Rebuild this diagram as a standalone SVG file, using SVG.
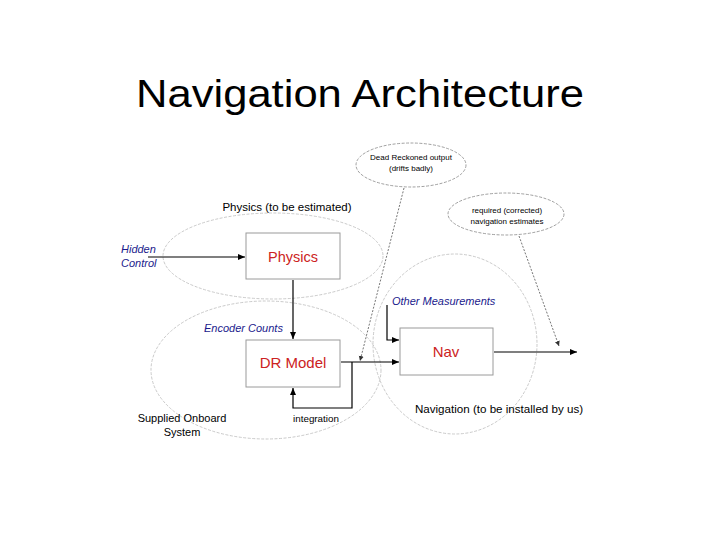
<svg xmlns="http://www.w3.org/2000/svg" width="720" height="540" viewBox="0 0 720 540">
<defs>
<style>
.t{font-family:"Liberation Sans",Arial,sans-serif;fill:#000}
.blue{font-family:"Liberation Sans",Arial,sans-serif;font-style:italic;fill:#1a1a8c;font-size:11px}
.red{font-family:"Liberation Sans",Arial,sans-serif;fill:#cc2222;text-anchor:middle}
.ell{fill:none;stroke:#bdbdbd;stroke-width:0.8;stroke-dasharray:3 1.5}
.ell2{fill:none;stroke:#888;stroke-width:0.8;stroke-dasharray:3 1.5}
.box{fill:#fff;stroke:#9a9a9a;stroke-width:1}
.ln{fill:none;stroke:#000;stroke-width:1.2}
.dot{fill:none;stroke:#666;stroke-width:0.9;stroke-dasharray:2 1.5}
</style>
<marker id="ah" markerWidth="8" markerHeight="8" refX="7" refY="4" orient="auto" markerUnits="userSpaceOnUse">
<path d="M0,1 L7,4 L0,7 Z" fill="#000"/>
</marker>
<marker id="ahs" markerWidth="6" markerHeight="6" refX="5" refY="3" orient="auto" markerUnits="userSpaceOnUse">
<path d="M0,0.5 L5,3 L0,5.5 Z" fill="#333"/>
</marker>
</defs>
<rect width="720" height="540" fill="#fff"/>
<text class="t" x="360" y="107" font-size="38" text-anchor="middle" textLength="448" lengthAdjust="spacingAndGlyphs">Navigation Architecture</text>

<g id="regions">
<ellipse id="physics-region" class="ell" cx="273" cy="256" rx="110" ry="43"/>
<ellipse id="onboard-region" class="ell" cx="266" cy="370" rx="115" ry="69"/>
<ellipse id="nav-region" class="ell" cx="455" cy="344" rx="82" ry="90"/>
</g>

<g id="dr-output-note">
<ellipse class="ell2" cx="411" cy="165" rx="55" ry="22"/>
<text class="t" x="411" y="160" font-size="8" text-anchor="middle">Dead Reckoned output</text>
<text class="t" x="411" y="171" font-size="8" text-anchor="middle">(drifts badly)</text>
</g>
<g id="required-note">
<ellipse class="ell2" cx="506" cy="214" rx="58" ry="21"/>
<text class="t" x="507" y="213" font-size="8" text-anchor="middle">required (corrected)</text>
<text class="t" x="507" y="224" font-size="8" text-anchor="middle">navigation estimates</text>
</g>

<g id="connectors">
<path class="ln" d="M148,257 H245" marker-end="url(#ah)"/>
<path class="ln" d="M293,280 V339" marker-end="url(#ah)"/>
<path class="ln" d="M341,362 H399" marker-end="url(#ah)"/>
<path class="ln" d="M352,362 V408 H293 V388" marker-end="url(#ah)"/>
<path class="ln" d="M387,305 V340 H399" marker-end="url(#ah)"/>
<path class="ln" d="M494,352 H577" marker-end="url(#ah)"/>
<path class="dot" d="M404,188 L360,361" marker-end="url(#ahs)"/>
<path class="dot" d="M519,236 L559,346" marker-end="url(#ahs)"/>
</g>

<g id="physics">
<rect class="box" x="246" y="233" width="94" height="46"/>
<text class="red" x="293" y="262" font-size="14.5">Physics</text>
</g>
<g id="dr-model">
<rect class="box" x="246" y="340" width="94" height="47"/>
<text class="red" x="293" y="368" font-size="15">DR Model</text>
</g>
<g id="nav">
<rect class="box" x="400" y="328" width="93" height="47"/>
<text class="red" x="446" y="357" font-size="15">Nav</text>
</g>

<g id="labels">
<text class="t" x="287" y="211" font-size="11.5" text-anchor="middle">Physics (to be estimated)</text>
<text class="blue" x="121" y="253">Hidden</text>
<text class="blue" x="121" y="267">Control</text>
<text class="blue" x="204" y="332">Encoder Counts</text>
<text class="blue" x="392" y="305">Other Measurements</text>
<text class="t" x="316" y="422" font-size="9.8" text-anchor="middle">integration</text>
<text class="t" x="182" y="422" font-size="11" text-anchor="middle">Supplied Onboard</text>
<text class="t" x="182" y="436" font-size="11" text-anchor="middle">System</text>
<text class="t" x="499" y="413" font-size="11.6" text-anchor="middle">Navigation (to be installed by us)</text>
</g>
</svg>
